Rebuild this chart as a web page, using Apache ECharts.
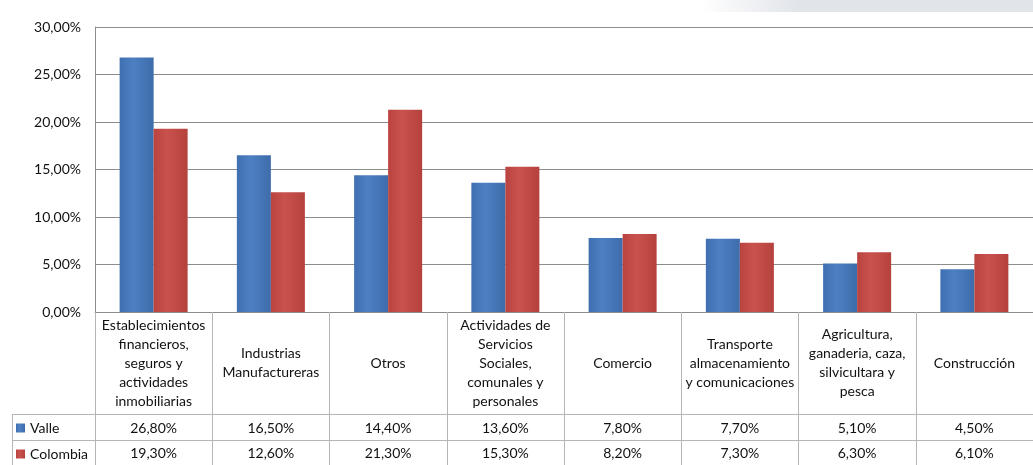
<!DOCTYPE html>
<html>
<head>
<meta charset="utf-8">
<script src="https://cdn.jsdelivr.net/npm/echarts@6/dist/echarts.min.js"></script>
<style>
    * { margin: 0; padding: 0; }
    #main { width: 1033px; height: 465px; background: #fff; }
</style>
</head>
<body>
<div id="main"></div>
<script>
    // datos
    const categorias = [
        'Establecimientos\nfinancieros,\nseguros y\nactividades\ninmobiliarias',
        'Industrias\nManufactureras',
        'Otros',
        'Actividades de\nServicios\nSociales,\ncomunales y\npersonales',
        'Comercio',
        'Transporte\nalmacenamiento\ny comunicaciones',
        'Agricultura,\nganaderia, caza,\nsilvicultara y\npesca',
        'Construcción'
    ]
    const valle = [26.8, 16.5, 14.4, 13.6, 7.8, 7.7, 5.1, 4.5]
    const colombia = [19.3, 12.6, 21.3, 15.3, 8.2, 7.3, 6.3, 6.1]
    const series = ['Valle', 'Colombia']

    const pct = v => v.toFixed(2).replace('.', ',') + '%'
    const font = 'Lato, "Open Sans", sans-serif'
    const lineCol = '#8c8c8c'
    const fs = 14

    // una leyenda por fila de la tabla
    const leyenda = (name, top) => ({
        data: [name],
        left: 11,
        top: top,
        padding: 5,
        itemWidth: 9,
        itemHeight: 9,
        icon: 'rect',
        textStyle: { fontSize: fs, color: '#111', fontFamily: font }
    })

    let myChart = echarts.init(document.getElementById('main'))
    let option = {
        animation: false,
        textStyle: { fontFamily: font },
        grid: { left: 95, top: 27, width: 945, bottom: 153 },
        legend: [leyenda(series[0], 416), leyenda(series[1], 442)],
        xAxis: [
            {
                type: 'category',
                data: categorias,
                axisLine: { lineStyle: { color: lineCol } },
                axisTick: { show: true, length: 153, lineStyle: { color: '#b5b5b5' } },
                axisLabel: {
                    interval: 0,
                    margin: 51,
                    verticalAlign: 'middle',
                    lineHeight: 19,
                    fontSize: fs,
                    color: '#111',
                    fontFamily: font
                }
            },
            {
                type: 'category',
                position: 'bottom',
                offset: 102,
                data: valle.map(pct),
                axisLine: { lineStyle: { color: '#b5b5b5' } },
                axisTick: { show: false },
                axisLabel: { interval: 0, margin: 14, verticalAlign: 'middle', fontSize: fs, color: '#111', fontFamily: font }
            },
            {
                type: 'category',
                position: 'bottom',
                offset: 128,
                data: colombia.map(pct),
                axisLine: { lineStyle: { color: '#b5b5b5' } },
                axisTick: { show: false },
                axisLabel: { interval: 0, margin: 13, verticalAlign: 'middle', fontSize: fs, color: '#111', fontFamily: font }
            }
        ],
        yAxis: {
            type: 'value',
            min: 0,
            max: 30,
            interval: 5,
            axisLine: { show: true, lineStyle: { color: lineCol } },
            axisTick: { show: false },
            splitLine: { lineStyle: { color: lineCol } },
            axisLabel: { formatter: v => pct(v), fontSize: fs, color: '#111', margin: 14, fontFamily: font }
        },
        graphic: [
            {
                type: 'rect',
                shape: { x: 700, y: 0, width: 333, height: 12 },
                style: {
                    fill: new echarts.graphic.LinearGradient(0, 0, 1, 0, [
                        { offset: 0, color: 'rgba(225,228,233,0)' },
                        { offset: 0.3, color: 'rgba(225,228,233,1)' },
                        { offset: 1, color: 'rgba(225,228,233,1)' }
                    ])
                },
                silent: true
            },
            { type: 'line', shape: { x1: 12, y1: 414.5, x2: 95, y2: 414.5 }, style: { stroke: '#b5b5b5' } },
            { type: 'line', shape: { x1: 12, y1: 440.5, x2: 95, y2: 440.5 }, style: { stroke: '#b5b5b5' } },
            { type: 'line', shape: { x1: 12.5, y1: 414, x2: 12.5, y2: 465 }, style: { stroke: '#b5b5b5' } }
        ],
        series: [
            {
                name: series[0],
                type: 'bar',
                data: valle,
                barGap: 0,
                barCategoryGap: '42%',
                itemStyle: {
                    color: new echarts.graphic.LinearGradient(0, 0, 1, 0, [
                        { offset: 0, color: '#3f6fb0' },
                        { offset: 0.4, color: '#4d80c2' },
                        { offset: 1, color: '#3e6cab' }
                    ])
                }
            },
            {
                name: series[1],
                type: 'bar',
                data: colombia,
                itemStyle: {
                    color: new echarts.graphic.LinearGradient(0, 0, 1, 0, [
                        { offset: 0, color: '#b9433f' },
                        { offset: 0.4, color: '#c9524e' },
                        { offset: 1, color: '#b5413d' }
                    ])
                }
            }
        ]
    }
    myChart.setOption(option)
</script>
</body>
</html>
